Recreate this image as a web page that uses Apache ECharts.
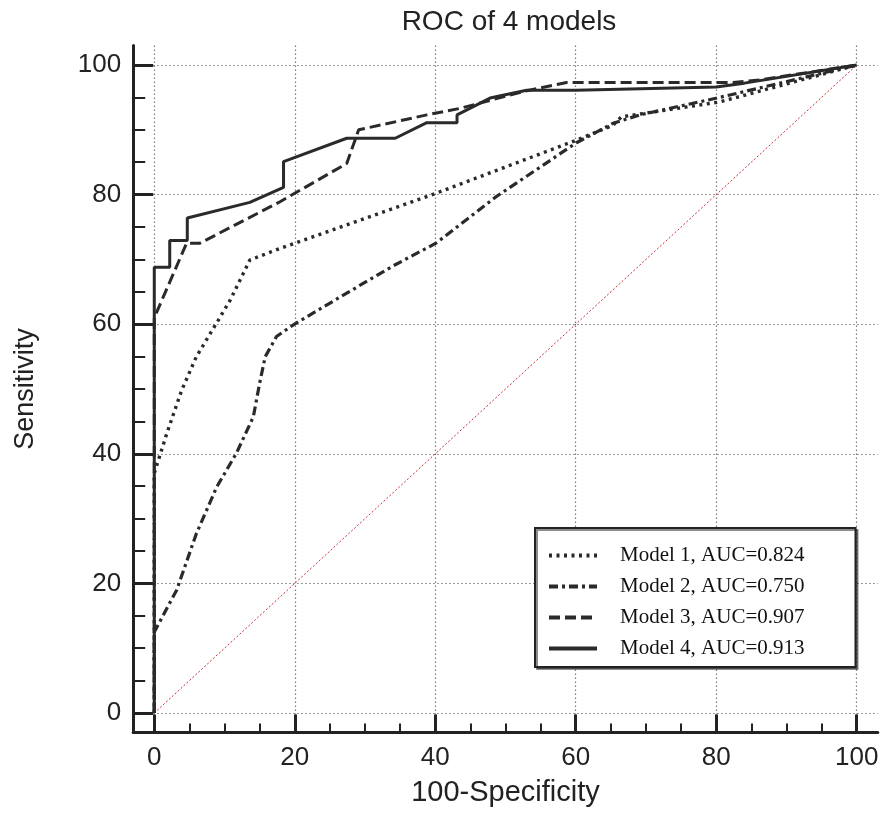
<!DOCTYPE html>
<html>
<head>
<meta charset="utf-8">
<title>ROC of 4 models</title>
<script src="https://cdn.jsdelivr.net/npm/echarts@6/dist/echarts.min.js"></script>
<style>
  html, body { margin: 0; padding: 0; background: #fff; }
  #chart { width: 886px; height: 813px; }
</style>
</head>
<body>
<div id="chart"></div>
<script>
// curves, [100-specificity, sensitivity]
const modelNames = ['Model 1, AUC=0.824', 'Model 2, AUC=0.750', 'Model 3, AUC=0.907', 'Model 4, AUC=0.913']

const model1 = [[0, 0], [0, 37], [1.8, 43.2], [3.9, 49.8], [6, 55], [9.1, 60.6], [10.8, 63.7], [13.6, 69.9],
  [17.9, 71.7], [40.1, 80.2], [60.1, 88.4], [65.3, 90.7], [66.5, 92], [80.5, 94.3], [100, 100]]

const model2 = [[0, 0], [0, 12.5], [3.2, 19], [6, 27.7], [8.9, 34.9], [11.7, 40.1], [14.1, 45.7], [15, 50.9],
  [15.8, 55], [17.4, 58.1], [19.8, 59.9], [27.4, 64.8], [34, 69], [40.1, 72.5], [48.7, 79.7], [60.1, 88],
  [65.3, 91], [69.1, 92.3], [80.1, 94.9], [100, 100]]

const model3 = [[0, 0], [0, 61], [4.6, 72.5], [6.5, 72.5], [17.9, 78.9], [27.4, 84.8], [29.1, 90], [38.8, 92.3],
  [43.5, 93.3], [52.5, 95.9], [58.7, 97.3], [82.4, 97.3], [86.2, 97.7], [100, 100]]

const model4 = [[0, 0], [0, 68.8], [2.2, 68.8], [2.2, 72.9], [4.7, 72.9], [4.7, 76.4], [13.6, 78.8], [18.4, 81.1],
  [18.4, 85.1], [27.4, 88.7], [34.3, 88.7], [38.8, 91.1], [43.1, 91.1], [43.1, 92.3], [47.8, 94.9], [53, 96.1],
  [60, 96.1], [80, 96.6], [84, 97.2], [100, 100]]

const diagonal = [[0, 0], [100, 100]]

const majorTicks = [0, 20, 40, 60, 80, 100]
const minorTicks = [5, 10, 15, 25, 30, 35, 45, 50, 55, 65, 70, 75, 85, 90, 95]

const curves = [model1, model2, model3, model4]
const dashes = [[3, 4.5], [9, 4, 3, 4], [11, 5], 'solid']
const widths = [3.4, 3.2, 3, 3]

const sans = 'Liberation Sans, Arial, sans-serif'
const ink = '#222'

function majorAxis(pos, name, gap, tickLen, nameSize) {
  return {
    type: 'value',
    position: pos,
    min: -3,
    max: 103,
    name: name,
    nameLocation: 'middle',
    nameGap: gap,
    nameTextStyle: { fontSize: nameSize, color: ink, fontFamily: sans },
    axisLine: { onZero: false, lineStyle: { color: ink, width: 3 } },
    axisTick: { inside: true, length: tickLen, customValues: majorTicks, lineStyle: { color: ink, width: 3 } },
    axisLabel: { customValues: majorTicks, fontSize: 26, color: ink, fontFamily: sans, margin: 12 },
    splitLine: { show: true, lineStyle: { color: '#7a7a7a', width: 1.2, type: [1.5, 2.5] } }
  }
}

function minorAxis(pos, tickLen) {
  return {
    type: 'value',
    position: pos,
    min: -3,
    max: 103,
    axisLine: { show: false, onZero: false },
    axisTick: { inside: true, length: tickLen, customValues: minorTicks, lineStyle: { color: ink, width: 2 } },
    axisLabel: { show: false },
    splitLine: { show: false }
  }
}

let series = [{
  type: 'line',
  data: diagonal,
  symbol: 'none',
  silent: true,
  lineStyle: { color: '#c8303c', width: 1, type: [2, 2] }
}]
curves.forEach((c, i) => {
  series.push({
    name: modelNames[i],
    type: 'line',
    data: c,
    symbol: 'none',
    silent: true,
    itemStyle: { color: '#2a2a2a' },
    lineStyle: { color: '#2a2a2a', width: widths[i], type: dashes[i], cap: 'butt' }
  })
})

const options = {
  animation: false,
  backgroundColor: '#fff',
  title: {
    text: 'ROC of 4 models',
    left: 509,
    top: 8,
    padding: 0,
    textAlign: 'center',
    textStyle: { fontSize: 28, fontWeight: 'normal', color: ink, fontFamily: sans }
  },
  grid: { left: 133.2, right: 8.2, top: 45.56, bottom: 80.56, containLabel: false },
  legend: {
    data: modelNames,
    orient: 'vertical',
    left: 535,
    top: 528,
    padding: [17, 51, 8, 12],
    itemWidth: 48,
    itemHeight: 21,
    itemGap: 10,
    backgroundColor: '#fff',
    borderColor: ink,
    borderWidth: 2,
    borderRadius: 0,
    shadowColor: 'rgba(0,0,0,0.45)',
    shadowOffsetX: 2,
    shadowOffsetY: 2,
    itemStyle: { opacity: 0 },
    lineStyle: { width: 4 },
    textStyle: { fontSize: 21, color: '#111', fontFamily: 'Liberation Serif, Times New Roman, serif', lineHeight: 21, padding: [0, 0, 0, 18] }
  },
  xAxis: [majorAxis('bottom', '100-Specificity', 46, 18, 29), minorAxis('bottom', 9)],
  yAxis: [majorAxis('left', 'Sensitivity', 94, 20, 27), minorAxis('left', 12)],
  series: series
}

let myChart = null
try {
  myChart = echarts.init(document.getElementById('chart'))
  myChart.setOption(options)
} catch (e) {
  console.error('ECHARTS', e.message)
}
</script>
</body>
</html>
